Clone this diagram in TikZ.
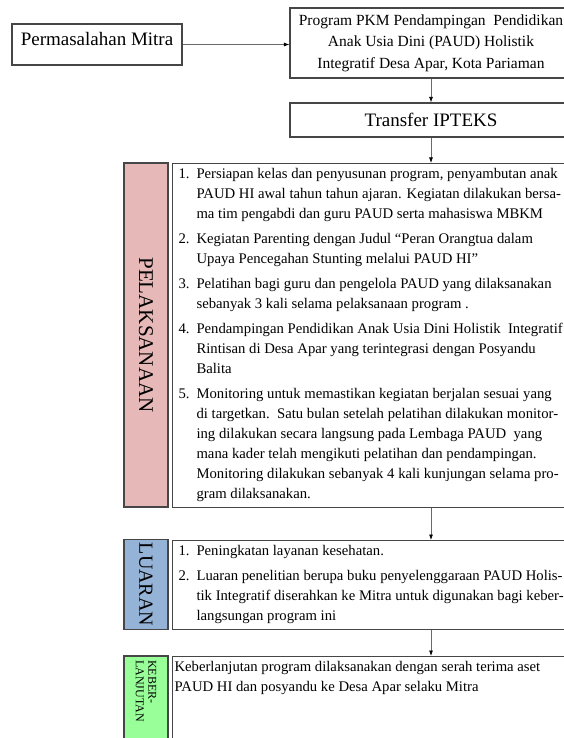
\documentclass[tikz,border=0pt]{standalone}
\usepackage{fontspec}
\setmainfont{Liberation Serif}
\usepackage{tikz}
\usetikzlibrary{arrows.meta, positioning, calc}

\definecolor{sisipink}{RGB}{230, 184, 183}
\definecolor{sisibiru}{RGB}{149, 179, 215}
\definecolor{sisihijau}{RGB}{153, 255, 153}
\definecolor{garis}{RGB}{70, 70, 70}
\definecolor{panahabu}{RGB}{105, 105, 105}

% isi kotak teks: tinggi, indentasi kiri, isi
\newcommand{\isian}[3]{\parbox[c][#1][t]{420pt}{\leftskip=#2\parskip=5pt\parindent=0pt\relax#3}}
% butir bernomor dengan indentasi gantung
\newcommand{\butir}[2]{\hangindent=18pt\hangafter=1\noindent\makebox[18pt][l]{\rule{0pt}{14.5pt}#1.}#2\par}

\begin{document}
\begin{tikzpicture}[x=1pt, y=-1pt,
  kotak/.style={draw=garis, line width=1.1pt, fill=white},
  sisi/.style={draw=garis, line width=1.1pt, rotate=-90, minimum height=44pt},
  panah/.style={draw=panahabu, line width=0.8pt, -{Latex[length=5.5pt, width=4pt, color=black]}}]
  \useasboundingbox (0,0) rectangle (564,738);
  \fill[white] (0,0) rectangle (564,738);
  \clip (0,0) rectangle (564,738);

  % Baris atas
  \node[kotak, minimum width=170pt, minimum height=41pt, text height=13pt, text depth=11pt,
        font=\fontsize{19}{22}\selectfont] (masalah) at (97,44.5) {Permasalahan Mitra};
  \node[kotak, minimum width=282pt, minimum height=70pt, align=center,
        font=\fontsize{15.5}{21.5}\selectfont] (program) at (431,43)
        {Program PKM Pendampingan\ \ Pendidikan\\Anak Usia Dini (PAUD) Holistik\\Integratif Desa Apar, Kota Pariaman};
  \node[kotak, minimum width=282pt, minimum height=34pt,
        font=\fontsize{19}{22}\selectfont] (transfer) at (431,120) {Transfer IPTEKS};

  % Label samping
  \node[sisi, fill=sisipink, minimum width=344pt,
        font=\fontsize{21}{24}\selectfont] (pelaksanaan) at (146,335) {PELAKSANAAN};
  \node[sisi, fill=sisibiru, minimum width=89pt,
        font=\fontsize{20}{24}\selectfont] (luaran) at (146,584.5) {LUARAN};
  \node[sisi, fill=sisihijau, minimum width=104pt, text width=96pt, inner xsep=4pt, align=left,
        font=\fontsize{12}{12.5}\selectfont] (lanjut) at (146,708) {KEBER-\\LANJUTAN};

  % Kotak isi
  \node[kotak, anchor=north west, inner sep=0pt, font=\fontsize{14.7}{20}\selectfont]
    (daftarlaksana) at (172,163) {\isian{344pt}{6pt}{%
    \butir{1}{Persiapan kelas dan penyusunan program, penyambutan anak\newline
      PAUD HI awal tahun tahun ajaran. Kegiatan dilakukan bersa-\newline
      ma tim pengabdi dan guru PAUD serta mahasiswa MBKM}
    \butir{2}{Kegiatan Parenting dengan Judul “Peran Orangtua dalam\newline
      Upaya Pencegahan Stunting melalui PAUD HI”}
    \butir{3}{Pelatihan bagi guru dan pengelola PAUD yang dilaksanakan\newline
      sebanyak 3 kali selama pelaksanaan program .}
    \butir{4}{Pendampingan Pendidikan Anak Usia Dini Holistik\ \ Integratif\newline
      Rintisan di Desa Apar yang terintegrasi dengan Posyandu\newline
      Balita}
    \butir{5}{Monitoring untuk memastikan kegiatan berjalan sesuai yang\newline
      di targetkan.\ \ Satu bulan setelah pelatihan dilakukan monitor-\newline
      ing dilakukan secara langsung pada Lembaga PAUD\ \ yang\newline
      mana kader telah mengikuti pelatihan dan pendampingan.\newline
      Monitoring dilakukan sebanyak 4 kali kunjungan selama pro-\newline
      gram dilaksanakan.}}};
  \node[kotak, anchor=north west, inner sep=0pt, font=\fontsize{14.7}{20}\selectfont]
    (daftarluaran) at (172,540) {\isian{89pt}{6pt}{%
    \butir{1}{Peningkatan layanan kesehatan.}
    \butir{2}{Luaran penelitian berupa buku penyelenggaraan PAUD Holis-\newline
      tik Integratif diserahkan ke Mitra untuk digunakan bagi keber-\newline
      langsungan program ini}}};
  \node[kotak, anchor=north west, inner sep=0pt, font=\fontsize{14.7}{20}\selectfont]
    (daftarlanjut) at (172,656) {\isian{104pt}{2pt}{%
    \rule{0pt}{15pt}Keberlanjutan program dilaksanakan dengan serah terima aset\newline
    PAUD HI dan posyandu ke Desa Apar selaku Mitra\par}};

  % Panah
  \draw[panah] (masalah.east) -- (masalah.east -| program.west);
  \draw[panah] (program.south) -- (transfer.north);
  \draw[panah] (transfer.south) -- (transfer.south |- daftarlaksana.north);
  \draw[panah] (daftarlaksana.south -| transfer.south) -- (transfer.south |- daftarluaran.north);
  \draw[panah] (daftarluaran.south -| transfer.south) -- (transfer.south |- daftarlanjut.north);
\end{tikzpicture}
\end{document}
